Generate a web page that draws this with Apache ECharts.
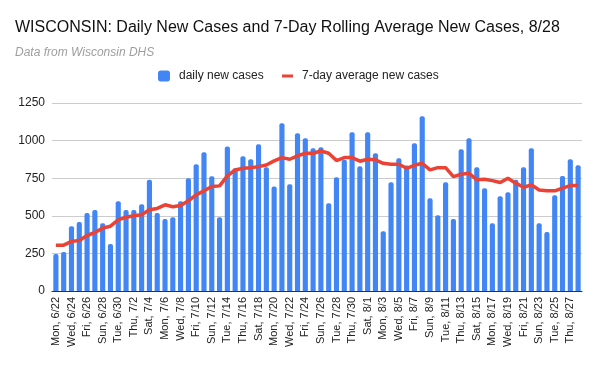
<!DOCTYPE html>
<html><head><meta charset="utf-8">
<script src="https://cdn.jsdelivr.net/npm/echarts@6/dist/echarts.min.js"></script>
<style>html,body{margin:0;padding:0;background:#fff}#c{width:600px;height:371px}</style>
</head><body><div id="c"></div>
<script>
const dates = ["Mon, 6/22","Tue, 6/23","Wed, 6/24","Thu, 6/25","Fri, 6/26","Sat, 6/27","Sun, 6/28","Mon, 6/29","Tue, 6/30",
"Wed, 7/1","Thu, 7/2","Fri, 7/3","Sat, 7/4","Sun, 7/5","Mon, 7/6","Tue, 7/7","Wed, 7/8","Thu, 7/9","Fri, 7/10","Sat, 7/11","Sun, 7/12",
"Mon, 7/13","Tue, 7/14","Wed, 7/15","Thu, 7/16","Fri, 7/17","Sat, 7/18","Sun, 7/19","Mon, 7/20","Tue, 7/21","Wed, 7/22","Thu, 7/23",
"Fri, 7/24","Sat, 7/25","Sun, 7/26","Mon, 7/27","Tue, 7/28","Wed, 7/29","Thu, 7/30","Fri, 7/31","Sat, 8/1","Sun, 8/2","Mon, 8/3",
"Tue, 8/4","Wed, 8/5","Thu, 8/6","Fri, 8/7","Sat, 8/8","Sun, 8/9","Mon, 8/10","Tue, 8/11","Wed, 8/12","Thu, 8/13","Fri, 8/14",
"Sat, 8/15","Sun, 8/16","Mon, 8/17","Tue, 8/18","Wed, 8/19","Thu, 8/20","Fri, 8/21","Sat, 8/22","Sun, 8/23","Mon, 8/24","Tue, 8/25",
"Wed, 8/26","Thu, 8/27","Fri, 8/28"];
const dailyNew = [246,259,431,458,518,538,451,312,597,538,538,577,739,518,478,491,597,750,843,922,763,491,960,816,
896,876,975,822,695,1115,710,1049,1015,949,956,584,757,872,1055,830,1055,916,398,723,883,834,982,1162,
617,504,723,478,942,1015,823,684,451,630,657,739,823,949,451,392,637,765,876,836];
const avg7 = [305,305,330,336,369,389,418,431,473,491,500,507,540,549,573,560,568,600,639,666,695,699,765,805,
816,820,827,838,865,887,876,898,916,916,931,916,867,887,887,863,876,872,849,843,843,816,836,849,
805,820,820,760,776,783,739,743,734,721,750,717,690,706,672,666,666,684,701,701];
const yTicks = {min:0, max:1250, interval:250};

const chart = echarts.init(document.getElementById('c'), null, {renderer:'canvas'});
const font = 'Liberation Sans, Arial, sans-serif';
chart.setOption({
  animation:false,
  backgroundColor:'#fff',
  textStyle:{fontFamily:font},
  title:{
    text:'WISCONSIN: Daily New Cases and 7-Day Rolling Average New Cases, 8/28',
    subtext:'Data from Wisconsin DHS',
    left:10, top:15, itemGap:11,
    textStyle:{fontFamily:font, fontSize:16, fontWeight:'normal', color:'#111'},
    subtextStyle:{fontFamily:font, fontSize:12, fontStyle:'italic', color:'#9e9e9e'}
  },
  legend:[
    {data:[{name:'daily new cases', icon:'roundRect'}], left:153, top:65, itemWidth:12, itemHeight:11,
     textStyle:{fontFamily:font, fontSize:12, color:'#222', padding:[0,0,0,4]}},
    {data:[{name:'7-day average new cases', icon:'rect'}], left:277, top:65, itemWidth:11, itemHeight:3,
     textStyle:{fontFamily:font, fontSize:12, color:'#222', padding:[0,0,0,4]}}
  ],
  grid:{left:52, right:18, top:103, bottom:80, containLabel:false},
  xAxis:{
    type:'category', data:dates, boundaryGap:true,
    axisLine:{lineStyle:{color:'#333', width:1}},
    axisTick:{show:false},
    axisLabel:{interval:1, rotate:90, fontSize:11, color:'#222', fontFamily:font, margin:6}
  },
  yAxis:{
    type:'value', min:yTicks.min, max:yTicks.max, interval:yTicks.interval,
    axisLine:{show:false}, axisTick:{show:false},
    splitLine:{lineStyle:{color:'#ccc'}},
    axisLabel:{fontSize:12, color:'#222', fontFamily:font, margin:7, formatter:function(v){return String(v);}}
  },
  series:[
    {name:'daily new cases', type:'bar', data:dailyNew, barCategoryGap:'34%',
     itemStyle:{color:'#4285f4', borderRadius:[2,2,0,0]}},
    {name:'7-day average new cases', type:'line', data:avg7, symbol:'none', smooth:false,
     lineStyle:{color:'#ea4335', width:3.5}, itemStyle:{color:'#ea4335'}, z:5}
  ]
});
</script></body></html>
